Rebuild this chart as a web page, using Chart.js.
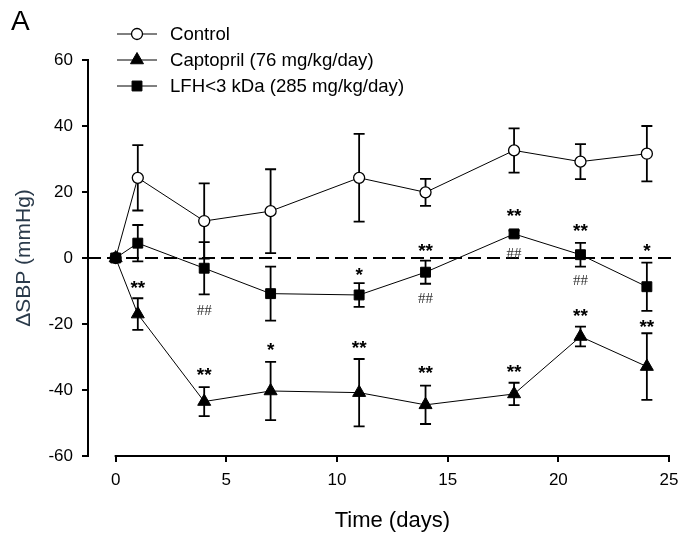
<!DOCTYPE html>
<html>
<head>
<meta charset="utf-8">
<script src="https://cdn.jsdelivr.net/npm/chart.js@4.4.0/dist/chart.umd.min.js"></script>
<style>
html, body { margin: 0; padding: 0; background: #fff; }
</style>
</head>
<body>
<canvas id="chart" width="681" height="533"></canvas>
<script>
// data
var days = [0, 1, 4, 7, 11, 14, 18, 21, 24];
var control = [0, 24.3, 11.2, 14.2, 24.3, 19.9, 32.6, 29.2, 31.6];
var controlErr = [0, 9.9, 11.4, 12.7, 13.3, 4.1, 6.7, 5.3, 8.4];
var captopril = [0, -17.0, -43.5, -40.3, -40.8, -44.5, -41.2, -23.8, -32.9];
var captoprilErr = [0, 4.8, 4.4, 8.8, 10.2, 5.8, 3.4, 3.0, 10.1];
var lfh = [0, 4.5, -3.1, -10.8, -11.2, -4.3, 7.3, 1.0, -8.7];
var lfhErr = [0, 5.5, 7.9, 8.2, 3.6, 3.5, 1.0, 3.6, 7.3];
var xTicks = [0, 5, 10, 15, 20, 25];
var yTicks = [-60, -40, -20, 0, 20, 40, 60];

// significance marks: day, y, text
var starDays = [1, 4, 7, 11, 14, 18, 21, 24, 11, 14, 18, 21, 24];
var starY = [-7.7, -33.9, -26.4, -25.7, -33.4, -32.9, -16.0, -19.3, -3.6, 3.7, 14.3, 9.8, 3.7];
var starText = ['**', '**', '*', '**', '**', '**', '**', '**', '*', '**', '**', '**', '*'];
var hashDays = [4, 14, 18, 21];
var hashY = [-15.8, -12.2, 1.4, -6.7];

var FONT = "'Liberation Sans', Arial, sans-serif";

function pts(ys) {
  return days.map(function(d, i) { return {x: d, y: ys[i]}; });
}

var datasets = [
  {
    label: 'Control', data: pts(control), errors: controlErr, order: 2,
    borderColor: '#000', borderWidth: 1, pointStyle: 'circle', pointRadius: 5.5,
    pointBackgroundColor: '#fff', pointBorderColor: '#000', pointBorderWidth: 1.3
  },
  {
    label: 'Captopril (76 mg/kg/day)', data: pts(captopril), errors: captoprilErr, order: 1,
    borderColor: '#000', borderWidth: 1, pointStyle: 'triangle', pointRadius: 7.5,
    pointBackgroundColor: '#000', pointBorderColor: '#000', pointBorderWidth: 1
  },
  {
    label: 'LFH<3 kDa (285 mg/kg/day)', data: pts(lfh), errors: lfhErr, order: 0,
    borderColor: '#000', borderWidth: 1, pointStyle: 'rect', pointRadius: 7,
    pointBackgroundColor: '#000', pointBorderColor: '#000', pointBorderWidth: 1
  }
];

var extras = {
  id: 'extras',
  beforeDatasetsDraw: function(chart) {
    var ctx = chart.ctx, xs = chart.scales.x, ys = chart.scales.y, area = chart.chartArea;
    ctx.save();
    // x axis line from 0 to 25
    ctx.strokeStyle = '#000';
    ctx.lineWidth = 2;
    ctx.beginPath();
    ctx.moveTo(xs.getPixelForValue(xTicks[0]) - 1, area.bottom);
    ctx.lineTo(xs.getPixelForValue(xTicks[xTicks.length - 1]) + 1, area.bottom);
    ctx.stroke();
    // dashed zero line
    var y0 = ys.getPixelForValue(0);
    ctx.setLineDash([13, 6]);
    ctx.beginPath();
    ctx.moveTo(area.left, y0);
    ctx.lineTo(area.right + 3, y0);
    ctx.stroke();
    ctx.setLineDash([]);
    // error bars
    ctx.lineWidth = 1.8;
    chart.data.datasets.forEach(function(ds) {
      ds.data.forEach(function(p, i) {
        var e = ds.errors[i];
        if (!e) return;
        var px = xs.getPixelForValue(p.x);
        var top = ys.getPixelForValue(p.y + e);
        var bot = ys.getPixelForValue(p.y - e);
        ctx.beginPath();
        ctx.moveTo(px, top); ctx.lineTo(px, bot);
        ctx.moveTo(px - 5.5, top); ctx.lineTo(px + 5.5, top);
        ctx.moveTo(px - 5.5, bot); ctx.lineTo(px + 5.5, bot);
        ctx.stroke();
      });
    });
    ctx.restore();
  },
  afterDraw: function(chart) {
    var ctx = chart.ctx, xs = chart.scales.x, ys = chart.scales.y;
    ctx.save();
    // stars
    ctx.fillStyle = '#000';
    ctx.textAlign = 'center';
    ctx.textBaseline = 'alphabetic';
    ctx.font = 'bold 19px ' + FONT;
    starDays.forEach(function(d, i) {
      ctx.fillText(starText[i], xs.getPixelForValue(d), ys.getPixelForValue(starY[i]) + 11);
    });
    // hashes
    ctx.fillStyle = '#333';
    ctx.font = "15px 'Liberation Serif', 'Times New Roman', serif";
    hashDays.forEach(function(d, i) {
      ctx.fillText('##', xs.getPixelForValue(d), ys.getPixelForValue(hashY[i]) + 5);
    });
    // x axis title, centred on the 0-25 axis
    ctx.fillStyle = '#000';
    ctx.font = '22px ' + FONT;
    var cx = (xs.getPixelForValue(xTicks[0]) + xs.getPixelForValue(xTicks[xTicks.length - 1])) / 2;
    ctx.fillText('Time (days)', cx, 527);
    // panel letter
    ctx.textAlign = 'left';
    ctx.font = '28px ' + FONT;
    ctx.fillText('A', 11, 30);
    // legend
    var rows = [34, 60, 86];
    ctx.font = '18.6px ' + FONT;
    ctx.textBaseline = 'middle';
    chart.data.datasets.forEach(function(ds, r) {
      var y = rows[r];
      ctx.strokeStyle = '#000';
      ctx.lineWidth = 1;
      ctx.beginPath();
      ctx.moveTo(117, y); ctx.lineTo(157, y);
      ctx.stroke();
      ctx.fillStyle = ds.pointBackgroundColor;
      ctx.lineWidth = ds.pointBorderWidth;
      Chart.helpers.drawPoint(ctx, {pointStyle: ds.pointStyle, radius: ds.pointRadius, rotation: 0, borderWidth: ds.pointBorderWidth}, 137, y);
      ctx.fillStyle = '#000';
      ctx.fillText(ds.label, 170, y + 1);
    });
    ctx.restore();
  }
};

new Chart(document.getElementById('chart').getContext('2d'), {
  type: 'line',
  data: {datasets: datasets},
  options: {
    responsive: false,
    animation: false,
    devicePixelRatio: 1,
    layout: {padding: {top: 60, right: 12, left: 0, bottom: 0}},
    plugins: {legend: {display: false}, tooltip: {enabled: false}},
    scales: {
      x: {
        type: 'linear', min: -1.25, max: 25,
        afterBuildTicks: function(s) { s.ticks = xTicks.map(function(v) { return {value: v}; }); },
        afterFit: function(s) { s.height = 77; s.paddingRight = 0; s.paddingLeft = 0; },
        ticks: {color: '#000', font: {family: FONT, size: 17}, padding: 8, maxRotation: 0},
        grid: {drawOnChartArea: false, drawTicks: true, tickLength: 6, color: '#000', lineWidth: 2},
        border: {display: false}
      },
      y: {
        type: 'linear', min: -60, max: 60,
        afterBuildTicks: function(s) { s.ticks = yTicks.map(function(v) { return {value: v}; }); },
        afterFit: function(s) { s.width = 88; },
        ticks: {color: '#000', font: {family: FONT, size: 17}, padding: 9},
        grid: {drawOnChartArea: false, drawTicks: true, tickLength: 6, color: '#000', lineWidth: 2},
        border: {display: true, color: '#000', width: 2},
        title: {display: true, text: 'ΔSBP (mmHg)', color: '#2a3a4a', font: {family: FONT, size: 21}, padding: {top: 12, bottom: 0}}
      }
    }
  },
  plugins: [extras]
});
</script>
</body>
</html>
